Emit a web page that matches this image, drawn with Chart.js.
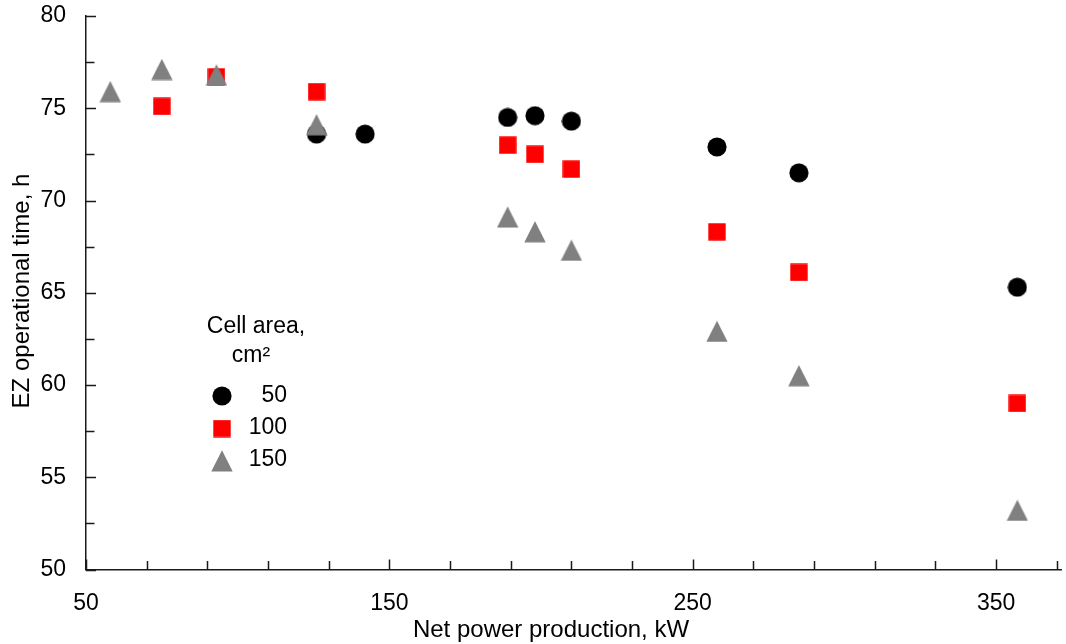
<!DOCTYPE html>
<html>
<head>
<meta charset="utf-8">
<script src="https://cdn.jsdelivr.net/npm/chart.js@4.4.1/dist/chart.umd.min.js"></script>
<style>
  html, body { margin: 0; padding: 0; background: #fff; }
  #wrap { width: 1066px; height: 644px; }
</style>
</head>
<body>
<div id="wrap"><canvas id="ezChart" width="1066" height="644"></canvas></div>
<script>
// net power production (kW) and EZ operational time (h) per cell area
const power50 = [126, 142, 189, 198, 210, 258, 285, 357];
const time50 = [73.6, 73.6, 74.5, 74.6, 74.3, 72.9, 71.5, 65.3];

const power100 = [75, 93, 126, 189, 198, 210, 258, 285, 357];
const time100 = [75.1, 76.7, 75.9, 73.0, 72.5, 71.7, 68.3, 66.1, 59.0];

const power150 = [58, 75, 93, 126, 189, 198, 210, 258, 285, 357];
const time150 = [75.9, 77.1, 76.8, 74.1, 69.1, 68.3, 67.3, 62.9, 60.5, 53.2];

const areaLabels = ["50", "100", "150"];
const xTicks = [50, 70, 90, 110, 130, 150, 170, 190, 210, 230, 250, 270, 290, 310, 330, 350, 370];
const yTicks = [50, 52.5, 55, 57.5, 60, 62.5, 65, 67.5, 70, 72.5, 75, 77.5, 80];

const FONT = "'Liberation Sans', Arial, sans-serif";
const AXIS = "#1a1a1a";

// marker images
const makeMarker = (w, h, draw) => {
    const c = document.createElement("canvas");
    c.width = w;
    c.height = h;
    draw(c.getContext("2d"));
    return c;
};
const circleMark = makeMarker(20, 20, ctx => {
    ctx.fillStyle = "#000";
    ctx.beginPath();
    ctx.arc(10, 10, 9.6, 0, Math.PI * 2);
    ctx.fill();
});
const squareMark = makeMarker(18, 18, ctx => {
    ctx.fillStyle = "#ff0000";
    ctx.fillRect(0.3, 0.3, 17.4, 17.4);
});
const triangleMark = makeMarker(22, 22, ctx => {
    ctx.fillStyle = "#808080";
    ctx.beginPath();
    ctx.moveTo(11, 0.3);
    ctx.lineTo(21.7, 21.5);
    ctx.lineTo(0.3, 21.5);
    ctx.closePath();
    ctx.fill();
});

const toPoints = (xs, ys) => xs.map((x, i) => ({ x: x, y: ys[i] }));

// inward tick marks, axis titles and the in-plot key
const decorations = {
    id: "decorations",
    afterDraw(chart) {
        const ctx = chart.ctx;
        const xs = chart.scales.x;
        const ys = chart.scales.y;
        const area = chart.chartArea;
        ctx.save();
        ctx.strokeStyle = AXIS;
        ctx.lineWidth = 1.5;
        ctx.beginPath();
        xs.ticks.forEach(t => {
            const px = Math.round(xs.getPixelForValue(t.value)) + 0.5;
            const len = (t.value - 50) % 100 === 0 ? 10 : 8.5;
            ctx.moveTo(px, area.bottom);
            ctx.lineTo(px, area.bottom - len);
        });
        ys.ticks.forEach(t => {
            const py = Math.round(ys.getPixelForValue(t.value)) + 0.5;
            const len = t.value % 5 === 0 ? 10 : 8.5;
            ctx.moveTo(area.left, py);
            ctx.lineTo(area.left + len, py);
        });
        ctx.stroke();

        ctx.fillStyle = "#000";
        ctx.font = "24px " + FONT;
        ctx.textAlign = "center";
        ctx.textBaseline = "alphabetic";
        ctx.fillText("Net power production, kW", 551, 637);

        ctx.save();
        ctx.translate(29, 291);
        ctx.rotate(-Math.PI / 2);
        ctx.fillText("EZ operational time, h", 0, 0);
        ctx.restore();

        // key
        ctx.font = "23px " + FONT;
        ctx.fillText("Cell area,", 256, 333);
        ctx.fillText("cm\u00b2", 251, 362);
        const marks = [circleMark, squareMark, triangleMark];
        const markY = [396, 428.5, 461];
        const textY = [402, 434, 466];
        ctx.textAlign = "right";
        marks.forEach((m, i) => {
            ctx.drawImage(m, 222 - m.width / 2, markY[i] - m.height / 2);
            ctx.fillText(areaLabels[i], 287, textY[i]);
        });
        ctx.restore();
    }
};

new Chart(document.getElementById("ezChart"), {
    type: "scatter",
    data: {
        datasets: [{
            label: areaLabels[0],
            data: toPoints(power50, time50),
            pointStyle: circleMark,
            order: 3
        }, {
            label: areaLabels[1],
            data: toPoints(power100, time100),
            pointStyle: squareMark,
            order: 2
        }, {
            label: areaLabels[2],
            data: toPoints(power150, time150),
            pointStyle: triangleMark,
            order: 1
        }]
    },
    options: {
        responsive: false,
        animation: false,
        devicePixelRatio: 1,
        layout: { padding: { top: 16, right: 0, left: 0, bottom: 0 } },
        plugins: {
            legend: { display: false },
            tooltip: { enabled: false }
        },
        scales: {
            x: {
                type: "linear",
                min: 50,
                max: 371.4,
                afterBuildTicks: scale => {
                    scale.ticks = xTicks.map(v => ({ value: v }));
                },
                afterFit: scale => {
                    scale.height = 74.5;
                    scale.paddingLeft = 0;
                    scale.paddingRight = 0;
                },
                grid: { display: false },
                border: { display: true, color: AXIS, width: 1.5 },
                ticks: {
                    autoSkip: false,
                    maxRotation: 0,
                    padding: 12,
                    color: "#000",
                    font: { family: FONT, size: 23 },
                    callback: v => ((v - 50) % 100 === 0 ? String(v) : "")
                }
            },
            y: {
                type: "linear",
                min: 50,
                max: 80,
                afterBuildTicks: scale => {
                    scale.ticks = yTicks.map(v => ({ value: v }));
                },
                afterFit: scale => {
                    scale.width = 86;
                    scale.paddingTop = 0;
                    scale.paddingBottom = 0;
                },
                grid: { display: false },
                border: { display: true, color: AXIS, width: 1.5 },
                ticks: {
                    autoSkip: false,
                    padding: 12,
                    color: "#000",
                    font: { family: FONT, size: 23 },
                    callback: v => (v % 5 === 0 ? String(v) : "")
                }
            }
        }
    },
    plugins: [decorations]
});
</script>
</body>
</html>
